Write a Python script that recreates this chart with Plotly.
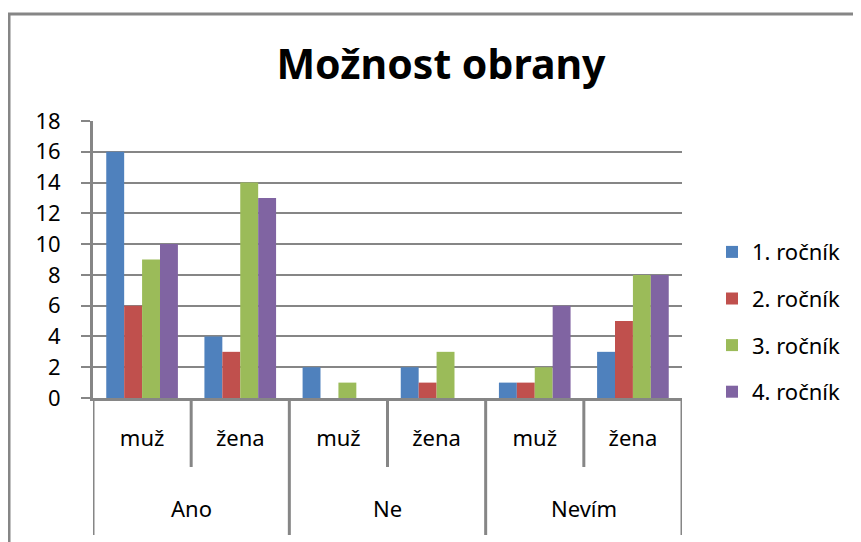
import plotly.graph_objects as go

groups = ["Ano", "Ne", "Nevím"]
genders = ["muž", "žena"]
series_names = ["1. ročník", "2. ročník", "3. ročník", "4. ročník"]
rocnik1 = [16, 4, 2, 2, 1, 3]
rocnik2 = [6, 3, 0, 1, 1, 5]
rocnik3 = [9, 14, 1, 3, 2, 8]
rocnik4 = [10, 13, 0, 0, 6, 8]
y_ticks = [0, 2, 4, 6, 8, 10, 12, 14, 16, 18]

colors = ["#4F81BD", "#C0504D", "#9BBB59", "#8064A2"]
FONT = "Noto Sans"
GRAY = "#868686"
FS = 22

inner_labels = [g for _ in groups for g in genders]
xpos = list(range(len(inner_labels)))

fig = go.Figure()
for i, (name, vals) in enumerate(zip(series_names, [rocnik1, rocnik2, rocnik3, rocnik4])):
    fig.add_trace(go.Bar(x=xpos, y=vals, name=name, marker_color=colors[i],
                         marker_line_width=0, legendgroup=name))

shapes = []
# chart border
shapes.append(dict(type="rect", xref="paper", yref="paper", x0=-0.1426, x1=2, y0=-2, y1=1.386,
                   line=dict(color=GRAY, width=3), fillcolor="rgba(0,0,0,0)", layer="below"))
# category dividers
n = len(inner_labels)
for k in range(n + 1):
    b = k - 0.5
    long = (k % len(genders) == 0)
    shapes.append(dict(type="line", xref="x", yref="paper", x0=b, x1=b, y0=0,
                       y1=-0.4946 if long else -0.249,
                       line=dict(color=GRAY, width=3)))

annotations = []
for gi, g in enumerate(groups):
    center = gi * len(genders) + (len(genders) - 1) / 2
    annotations.append(dict(x=center, xref="x", y=-0.397, yref="paper", text=g,
                            showarrow=False, font=dict(family=FONT, size=FS, color="black"),
                            yanchor="middle"))

fig.update_layout(
    width=861, height=542,
    margin=dict(l=85, r=187, t=113, b=152, autoexpand=False),
    paper_bgcolor="white", plot_bgcolor="white",
    title=dict(text="<b>Možnost obrany</b>", x=433 / 861, xanchor="center",
               y=1 - 57 / 542, yanchor="middle",
               font=dict(family=FONT, size=41, color="black")),
    barmode="group", bargap=0.27, bargroupgap=0,
    font=dict(family=FONT, size=FS, color="black"),
    showlegend=True,
    legend=dict(x=1 + (712 - 682) / 589, xanchor="left", y=0.274, yanchor="middle",
                font=dict(family=FONT, size=FS, color="black"),
                tracegroupgap=15, itemwidth=30, traceorder="grouped"),
    shapes=shapes, annotations=annotations,
)
fig.update_xaxes(range=[-0.5, n - 0.5], tickvals=xpos, ticktext=inner_labels,
                 ticks="", showline=True, linecolor=GRAY, linewidth=3, showgrid=False,
                 ticklabelstandoff=19, tickfont=dict(family=FONT, size=FS, color="black"),
                 zeroline=False, fixedrange=True, automargin=False)
fig.update_yaxes(range=[0, 18], tickvals=y_ticks, showgrid=True, gridcolor=GRAY, gridwidth=2,
                 showline=True, linecolor=GRAY, linewidth=3, ticks="outside", ticklen=9,
                 tickwidth=2, tickcolor=GRAY, zeroline=False, ticklabelstandoff=16,
                 tickfont=dict(family=FONT, size=FS, color="black"), automargin=False)

fig.write_html("out.html")
